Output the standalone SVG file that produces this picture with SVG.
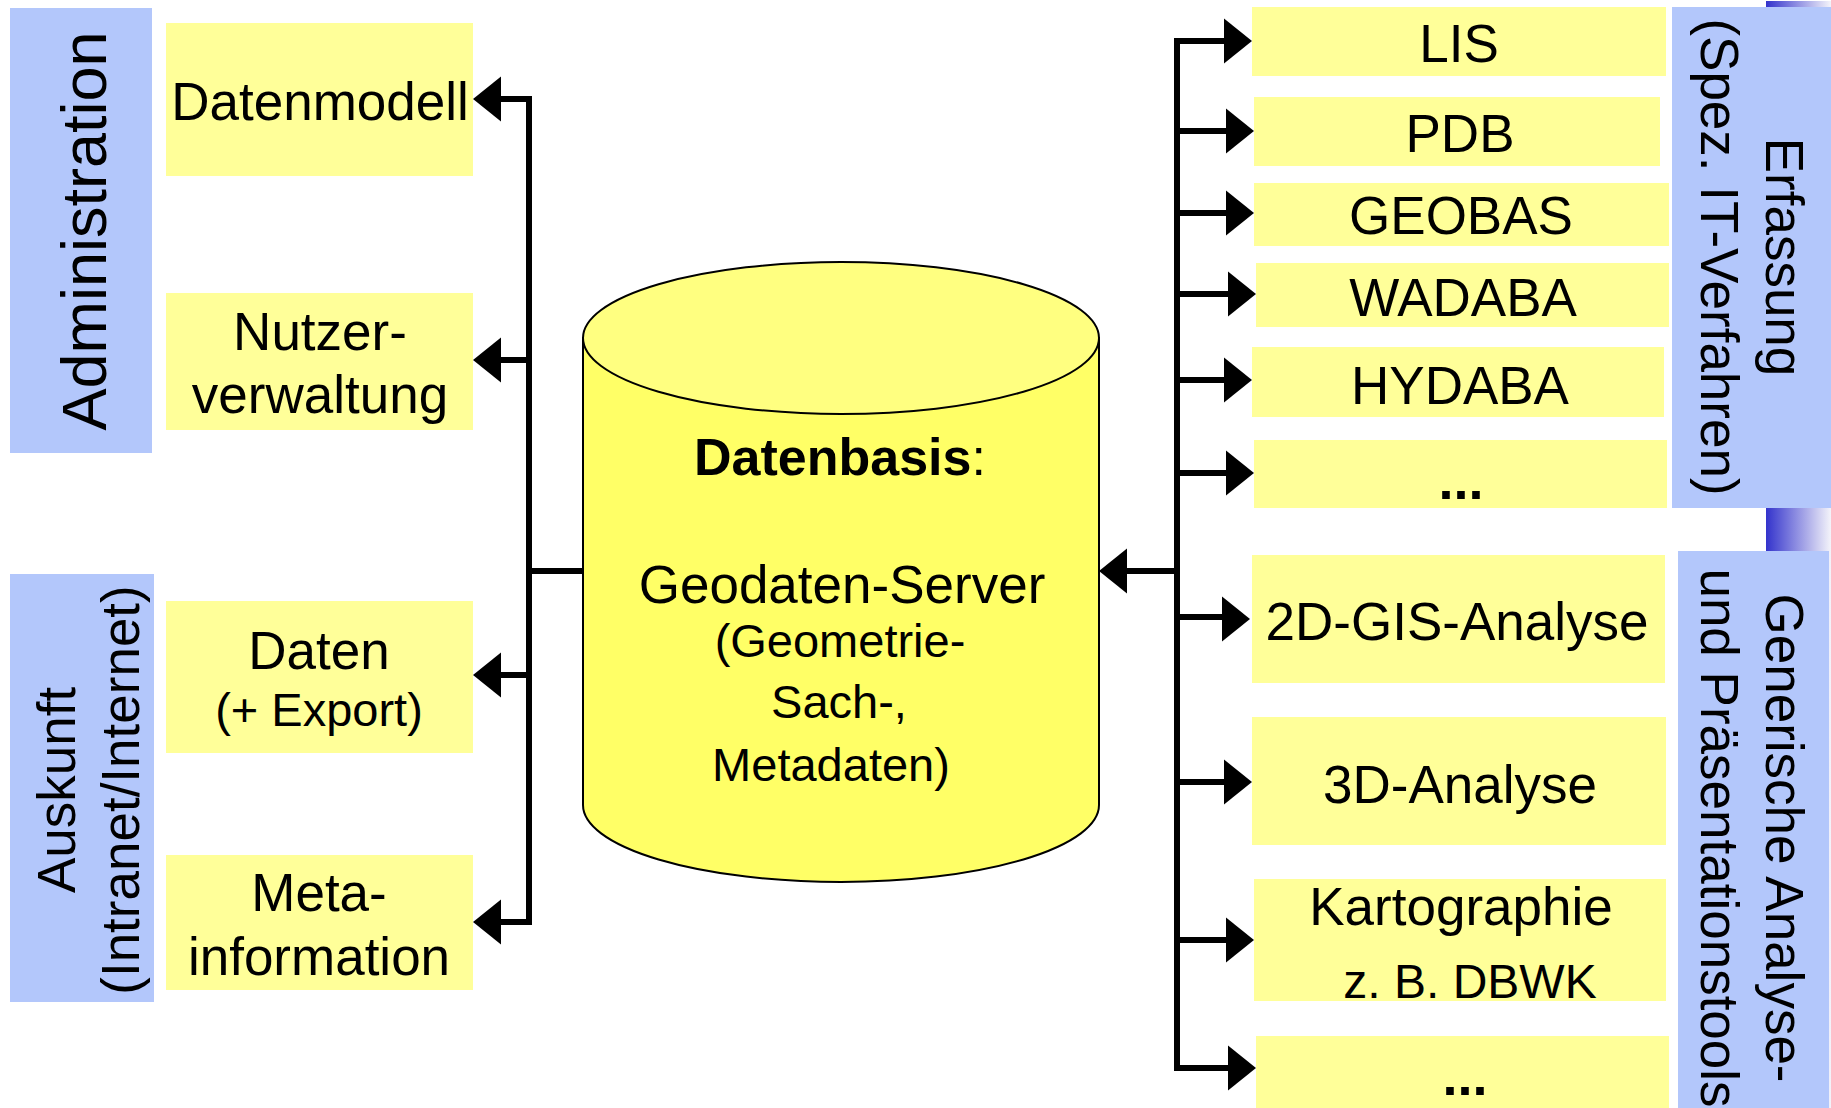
<svg xmlns="http://www.w3.org/2000/svg" width="1831" height="1108" viewBox="0 0 1831 1108">
<defs>
<style>
text { font-family: "Liberation Sans", Arial, sans-serif; fill: #000; }
.panel { fill: #b3c7fb; }
.box { fill: #ffff99; }
.t52 { font-size: 52px; text-anchor: middle; }
.t53 { font-size: 53px; text-anchor: middle; }
.dots { font-size: 54px; text-anchor: middle; font-weight: bold; }
.conn { stroke: #000; stroke-width: 6; fill: none; }
.head { fill: #000; }
</style>
<linearGradient id="grad" x1="0" y1="0" x2="1" y2="0">
<stop offset="0" stop-color="#3333cc"/>
<stop offset="1" stop-color="#f4f4fa"/>
</linearGradient>
</defs>
<rect width="1831" height="1108" fill="#fff"/>
<rect x="1766" y="1" width="65" height="1107" fill="url(#grad)"/>

<g id="panel-administration">
<rect class="panel" x="10" y="8" width="142" height="445"/>
<text transform="translate(106,231) rotate(-90)" style="font-size:63px;text-anchor:middle">Administration</text>
</g>
<g id="panel-auskunft">
<rect class="panel" x="10" y="574" width="144" height="428"/>
<text transform="translate(75,790) rotate(-90)" class="t53"><tspan x="0" y="0">Auskunft</tspan><tspan x="0" y="64">(Intranet/Internet)</tspan></text>
</g>
<g id="panel-erfassung">
<rect class="panel" x="1672" y="7" width="159" height="501"/>
<text transform="translate(1766,257) rotate(90)" class="t53"><tspan x="0" y="0">Erfassung</tspan><tspan x="0" y="65">(Spez. IT-Verfahren)</tspan></text>
</g>
<g id="panel-generisch">
<rect class="panel" x="1678" y="551" width="151" height="557"/>
<text transform="translate(1766,838) rotate(90)" class="t53"><tspan x="0" y="0">Generische Analyse-</tspan><tspan x="0" y="65">und Präsentationstools</tspan></text>
</g>

<g id="node-datenmodell"><rect class="box" x="166" y="23" width="307" height="153"/><text class="t52" x="320" y="120" style="font-size:53px">Datenmodell</text></g>
<g id="node-nutzer"><rect class="box" x="166" y="293" width="307" height="137"/><text class="t53"><tspan x="320" y="350">Nutzer-</tspan><tspan x="320" y="413">verwaltung</tspan></text></g>
<g id="node-daten"><rect class="box" x="166" y="601" width="307" height="152"/><text class="t53" x="319" y="669">Daten</text><text x="319" y="726" style="font-size:47px;text-anchor:middle">(+ Export)</text></g>
<g id="node-meta"><rect class="box" x="166" y="855" width="307" height="135"/><text class="t53"><tspan x="319" y="911">Meta-</tspan><tspan x="319" y="975">information</tspan></text></g>

<g id="node-datenbasis">
<path d="M583 338 L583 805 A258 77 0 0 0 1099 805 L1099 338 Z" fill="#ffff66" stroke="#000" stroke-width="2"/>
<ellipse cx="841" cy="338" rx="258" ry="76" fill="#ffff80" stroke="#000" stroke-width="2"/>
<text x="840" y="475" style="font-size:52px;text-anchor:middle"><tspan font-weight="bold">Datenbasis</tspan>:</text>
<text class="t53" x="842" y="603">Geodaten-Server</text>
<text x="840" y="657" style="font-size:47px;text-anchor:middle">(Geometrie-</text>
<text x="839" y="718" style="font-size:47px;text-anchor:middle">Sach-,</text>
<text x="831" y="781" style="font-size:47px;text-anchor:middle">Metadaten)</text>
</g>

<g id="node-lis"><rect class="box" x="1252" y="7" width="414" height="69"/><text class="t53" x="1459" y="62">LIS</text></g>
<g id="node-pdb"><rect class="box" x="1254" y="97" width="406" height="69"/><text class="t53" x="1460" y="152">PDB</text></g>
<g id="node-geobas"><rect class="box" x="1254" y="183" width="415" height="63"/><text class="t53" x="1461" y="234">GEOBAS</text></g>
<g id="node-wadaba"><rect class="box" x="1256" y="263" width="413" height="64"/><text class="t53" x="1463" y="316">WADABA</text></g>
<g id="node-hydaba"><rect class="box" x="1252" y="347" width="412" height="70"/><text class="t53" x="1460" y="404">HYDABA</text></g>
<g id="node-more1"><rect class="box" x="1254" y="440" width="413" height="68"/><text class="dots" x="1461" y="499">...</text></g>
<g id="node-2d"><rect class="box" x="1252" y="555" width="413" height="128"/><text class="t53" x="1457" y="640">2D-GIS-Analyse</text></g>
<g id="node-3d"><rect class="box" x="1252" y="717" width="414" height="128"/><text class="t53" x="1460" y="803">3D-Analyse</text></g>
<g id="node-kart"><rect class="box" x="1254" y="879" width="412" height="122"/><text class="t53" x="1461" y="925">Kartographie</text><text x="1470" y="998" style="font-size:48px;text-anchor:middle">z. B. DBWK</text></g>
<g id="node-more2"><rect class="box" x="1256" y="1036" width="413" height="72"/><text class="dots" x="1465" y="1095">...</text></g>

<g id="connectors">
<path class="conn" d="M500 99 H529 V922 H500 M529 360 H500 M529 675 H500 M584 571 H529"/>
<path class="head" d="M473 99 L501 76.5 L501 121.5 Z"/>
<path class="head" d="M473 360 L501 337.5 L501 382.5 Z"/>
<path class="head" d="M473 675 L501 652.5 L501 697.5 Z"/>
<path class="head" d="M473 922 L501 899.5 L501 944.5 Z"/>

<path class="conn" d="M1127 571 H1177"/>
<path class="head" d="M1099 571 L1127 548.5 L1127 593.5 Z"/>

<path class="conn" d="M1224 41 H1177 V1068 H1228 M1177 131 H1226 M1177 213 H1226 M1177 294 H1228 M1177 380 H1224 M1177 473 H1226 M1177 617 H1222 M1177 782 H1224 M1177 940 H1226"/>
<path class="head" d="M1252 41 L1224 18.5 L1224 63.5 Z"/>
<path class="head" d="M1254 131 L1226 108.5 L1226 153.5 Z"/>
<path class="head" d="M1254 213 L1226 190.5 L1226 235.5 Z"/>
<path class="head" d="M1256 294 L1228 271.5 L1228 316.5 Z"/>
<path class="head" d="M1252 380 L1224 357.5 L1224 402.5 Z"/>
<path class="head" d="M1254 473 L1226 450.5 L1226 495.5 Z"/>
<path class="head" d="M1250 619 L1222 596.5 L1222 641.5 Z"/>
<path class="head" d="M1252 782 L1224 759.5 L1224 804.5 Z"/>
<path class="head" d="M1254 940 L1226 917.5 L1226 962.5 Z"/>
<path class="head" d="M1256 1068 L1228 1045.5 L1228 1090.5 Z"/>
</g>
</svg>
